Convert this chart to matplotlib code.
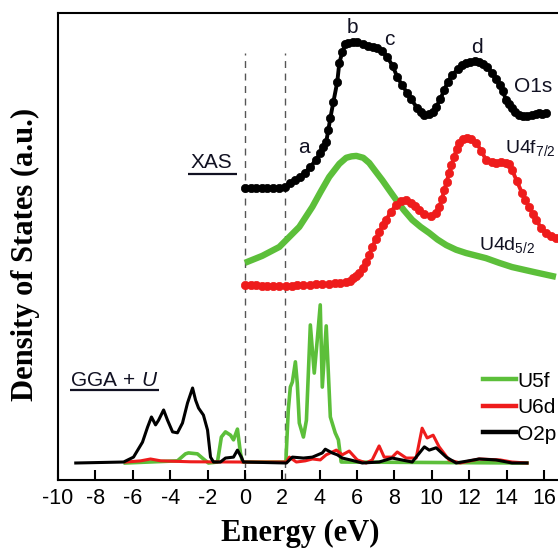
import matplotlib
matplotlib.use("Agg")
import matplotlib.pyplot as plt
import numpy as np

plt.rcParams['font.family'] = ['Liberation Sans', 'DejaVu Sans']
plt.rcParams['mathtext.fontset'] = 'custom'
plt.rcParams['mathtext.rm'] = 'Liberation Sans'
plt.rcParams['mathtext.it'] = 'Liberation Sans:italic'

# ---------------- XAS (top) ----------------
o1s_e = [0.0, 0.3, 0.6, 0.9, 1.2, 1.5, 1.8, 2.16, 2.43, 2.7, 2.96, 3.2, 3.5, 3.8, 4.03, 4.2,
         4.35, 4.46, 4.57, 4.73, 4.94, 5.05, 5.21, 5.37, 5.5, 5.8, 6.0, 6.33, 6.6, 6.85, 7.08,
         7.35, 7.61, 7.9, 8.15, 8.4, 8.68, 8.9, 9.21, 9.4, 9.59, 9.85, 10.05, 10.23, 10.45,
         10.66, 10.85, 11.08, 11.4, 11.6, 11.83, 12.05, 12.3, 12.53, 12.75, 12.95, 13.22,
         13.45, 13.65, 13.8, 13.97, 14.12, 14.29, 14.45, 14.66, 14.9, 15.1, 15.36, 15.55,
         15.73, 15.9, 16.1]
o1s_v = [62.5, 62.5, 62.5, 62.5, 62.5, 62.5, 62.6, 62.7, 63.6, 64.2, 64.9, 65.8, 67.0, 68.6,
         70.0, 71.2, 72.4, 74.9, 77.5, 80.9, 85.2, 89.3, 91.6, 93.4, 93.6, 93.7, 93.8, 93.3,
         93.0, 92.8, 92.5, 91.8, 90.6, 88.7, 86.3, 84.6, 82.9, 81.5, 79.7, 78.8, 78.2, 78.4,
         78.9, 79.9, 81.5, 83.5, 85.2, 86.7, 88.0, 88.8, 89.3, 89.6, 89.7, 89.5, 89.0, 88.4,
         87.2, 85.9, 84.6, 83.2, 81.4, 80.5, 79.7, 78.9, 78.2, 77.9, 78.0, 78.2, 78.4, 78.6,
         78.4, 78.6]

u4f_e = [0.0, 0.3, 0.6, 0.9, 1.2, 1.5, 1.84, 2.2, 2.5, 2.8, 3.1, 3.5, 3.8, 4.1, 4.5, 4.8, 5.1,
         5.42, 5.6, 5.8, 5.95, 6.12, 6.3, 6.5, 6.65, 6.81, 7.0, 7.18, 7.37, 7.56, 7.8, 8.09,
         8.35, 8.63, 8.9, 9.1, 9.32, 9.6, 9.96, 10.2, 10.39, 10.55, 10.66, 10.8, 10.92, 11.05,
         11.19, 11.32, 11.46, 11.65, 11.88, 12.1, 12.37, 12.65, 12.9, 13.2, 13.43, 13.7, 13.97,
         14.15, 14.29, 14.55, 14.82, 15.0, 15.2, 15.4, 15.57, 15.85, 16.1, 16.4, 16.64]
u4f_v = [41.8, 41.7, 41.7, 41.6, 41.6, 41.5, 41.5, 41.6, 41.6, 41.7, 41.7, 41.8, 41.9, 41.9,
         42.0, 42.1, 42.2, 42.4, 42.7, 43.2, 43.7, 44.3, 45.3, 46.7, 48.2, 49.9, 51.5, 53.1,
         54.5, 55.7, 57.4, 58.9, 59.8, 60.0, 59.3, 58.6, 57.8, 57.0, 56.5, 57.2, 58.5, 60.2,
         62.1, 63.9, 65.7, 67.5, 69.2, 70.8, 72.2, 73.0, 73.2, 73.1, 72.2, 70.5, 68.5, 68.0,
         67.9, 68.0, 67.9, 67.6, 66.4, 64.0, 61.5, 60.0, 58.5, 57.0, 55.7, 54.0, 52.9, 52.2,
         51.8]

u4d_e = [0.0, 0.93, 1.84, 2.91, 3.61, 4.05, 4.51, 5.05, 5.42, 5.7, 5.96, 6.33, 6.65, 6.95,
         7.35, 7.7, 8.09, 8.5, 8.95, 9.4, 9.86, 10.3, 10.77, 11.3, 11.83, 12.9, 13.6, 14.29,
         15.5, 16.64]
u4d_v = [46.5, 48.0, 49.9, 54.2, 58.5, 61.7, 64.9, 67.7, 69.0, 69.3, 69.4, 69.0, 67.9, 66.3,
         64.2, 62.2, 60.0, 57.8, 55.7, 54.2, 52.9, 51.5, 50.3, 49.3, 48.6, 47.5, 46.5, 45.6,
         44.5, 43.5]

# ---------------- GGA+U (bottom) ----------------
u5f_e = [-6.4, -3.61, -3.18, -3.02, -2.54, -2.22, -1.95, -1.47, -1.26, -1.04, -0.77, -0.61,
         -0.40, -0.24, -0.13, 2.19, 2.32, 2.43, 2.54, 2.70, 2.80, 2.91, 3.13, 3.29, 3.50,
         3.71, 3.87, 4.03, 4.14, 4.35, 4.57, 4.83, 5.0, 5.15, 15.09]
u5f_v = [3.64, 4.1, 5.6, 5.8, 5.6, 4.5, 3.64, 3.85, 9.2, 10.3, 9.6, 8.6,
         10.9, 5.8, 3.85, 3.85, 15.0, 19.9, 21.0, 25.3, 20.8, 12.2, 9.2, 12.8, 33.2,
         22.9, 30.0, 37.5, 19.9, 33.0, 13.5, 10.1, 8.6, 3.85, 3.64]

u6d_e = [-6.38, -5.58, -5.05, -4.5, -2.9, -0.24, 2.22, 2.38, 2.75, 3.23, 3.61, 4.03, 4.35,
         4.89, 5.21, 5.58, 6.01, 6.49, 6.81, 7.18, 7.45, 7.88, 8.15, 8.63, 9.16, 9.48, 9.75,
         10.07, 10.39, 10.92, 11.51, 12.53, 13.65, 14.29, 15.09]
u6d_v = [3.85, 4.1, 4.5, 4.1, 3.9, 3.85, 3.85, 4.9, 3.85, 4.1, 4.5, 4.3, 5.4,
         6.4, 5.4, 6.2, 4.3, 3.64, 4.3, 7.3, 4.9, 4.9, 6.0, 4.7, 4.7, 11.1, 9.0,
         9.6, 7.1, 4.3, 3.64, 4.5, 4.3, 3.85, 3.64]

o2p_e = [-9.05, -6.49, -5.96, -5.48, -5.21, -5.0, -4.78, -4.62, -4.35, -4.14, -3.87, -3.61,
         -3.34, -3.07, -2.80, -2.64, -2.48, -2.22, -2.0, -1.84, -1.68, -1.31, -1.04, -0.61,
         -0.40, -0.19, -0.08, 2.22, 2.54, 3.13, 3.61, 4.14, 4.3, 4.67, 4.94, 5.21, 5.64,
         6.28, 7.18, 7.88, 8.95, 9.6, 9.86, 10.23, 10.77, 11.3, 12.53, 13.43, 14.29, 15.09]
o2p_v = [3.64, 3.85, 4.9, 8.1, 11.3, 13.5, 11.8, 12.8, 15.0, 12.8, 10.3, 10.1,
         12.2, 16.5, 19.7, 17.1, 15.4, 13.9, 10.7, 4.9, 3.85, 3.85, 4.7, 4.9,
         6.4, 4.9, 3.85, 3.64, 4.9, 4.7, 4.9, 5.8, 6.6, 5.8, 5.4, 4.7, 4.3,
         3.64, 3.85, 4.7, 3.85, 7.1, 6.4, 6.9, 4.9, 3.64, 4.5, 4.3, 3.64, 3.64]

xticks = [-10, -8, -6, -4, -2, 0, 2, 4, 6, 8, 10, 12, 14, 16]
fermi_lines = [0.0, 2.16]

GREEN = '#5cbf3a'
RED = '#ee1c1c'
BLACK = '#000000'
TXT = '#111122'

fig = plt.figure(figsize=(5.58, 5.54), dpi=100)
ax = fig.add_axes([58/558, 74/554, 500/558, 467/554])
ax.set_xlim(-10, 16.75)
ax.set_ylim(0, 100)

for xv in fermi_lines:
    ax.plot([xv, xv], [0, 91.4], color='#555555', lw=1.0, ls=(0, (5, 4)), zorder=1)

# XAS curves
ax.plot(u4d_e, u4d_v, color=GREEN, lw=4.6, solid_capstyle='butt', zorder=3)
ax.plot(u4f_e, u4f_v, color=RED, lw=2.8, marker='o', ms=6.0, mec=RED, mfc=RED, mew=0.5, zorder=4)
ax.plot(o1s_e, o1s_v, color=BLACK, lw=2.8, marker='o', ms=6.0, mec=BLACK, mfc=BLACK, mew=0.5, zorder=4)

# GGA+U curves
ax.plot(u5f_e, u5f_v, color=GREEN, lw=2.6, label='U5f', zorder=3)
ax.plot(o2p_e, o2p_v, color=BLACK, lw=2.2, label='O2p', zorder=4)
ax.plot(u6d_e, u6d_v, color=RED, lw=2.2, label='U6d', zorder=3.5)

handles, labels = ax.get_legend_handles_labels()
order = [labels.index('U5f'), labels.index('U6d'), labels.index('O2p')]
leg = ax.legend([handles[i] for i in order], [labels[i] for i in order],
                loc='upper left', bbox_to_anchor=(0.849, 0.232), frameon=False,
                fontsize=15, handlelength=1.6, handletextpad=0.08, labelspacing=0.36,
                borderpad=0.0, borderaxespad=0.0)
for line in leg.get_lines():
    line.set_linewidth(3.2)

# annotations
ax.text(-1.79, 67.9, 'XAS', fontsize=15, ha='center', va='center', color=TXT)
ax.plot([-3.07, -0.4], [65.5, 65.5], color=TXT, lw=1.6, solid_capstyle='butt')
ax.text(-7.0, 21.4, r'GGA$\,+\,U$', fontsize=15, ha='center', va='center', color=TXT)
ax.plot([-9.37, -4.62], [19.3, 19.3], color=TXT, lw=1.6, solid_capstyle='butt')

ax.text(3.18, 71.3, 'a', fontsize=15, ha='center', va='center', color=TXT)
ax.text(5.74, 97.0, 'b', fontsize=15, ha='center', va='center', color=TXT)
ax.text(7.72, 94.4, 'c', fontsize=15, ha='center', va='center', color=TXT)
ax.text(12.42, 92.7, 'd', fontsize=15, ha='center', va='center', color=TXT)
ax.text(14.4, 84.2, 'O1s', fontsize=15, ha='left', va='center', color=TXT)
ax.text(13.9, 71.1, r'U4f$_{7/2}$', fontsize=14, ha='left', va='center', color=TXT)
ax.text(12.53, 50.3, r'U4d$_{5/2}$', fontsize=14, ha='left', va='center', color=TXT)

# axes styling
ax.spines['right'].set_visible(False)
for s in ['left', 'top', 'bottom']:
    ax.spines[s].set_linewidth(1.5)
ax.set_xticks(xticks)
ax.set_xticklabels([str(t) for t in xticks])
ax.set_yticks([])
ax.tick_params(axis='x', direction='in', length=7, width=1.5, pad=6, labelsize=15.5)

ax.set_xlabel('Energy (eV)', fontsize=22, fontweight='bold', family='Liberation Serif')
ax.set_ylabel('Density of States (a.u.)', fontsize=22, fontweight='bold', family='Liberation Serif')
ax.xaxis.set_label_coords(0.484, -0.083)
ax.yaxis.set_label_coords(-0.035, 0.482)

fig.savefig('out.png', dpi=100)
